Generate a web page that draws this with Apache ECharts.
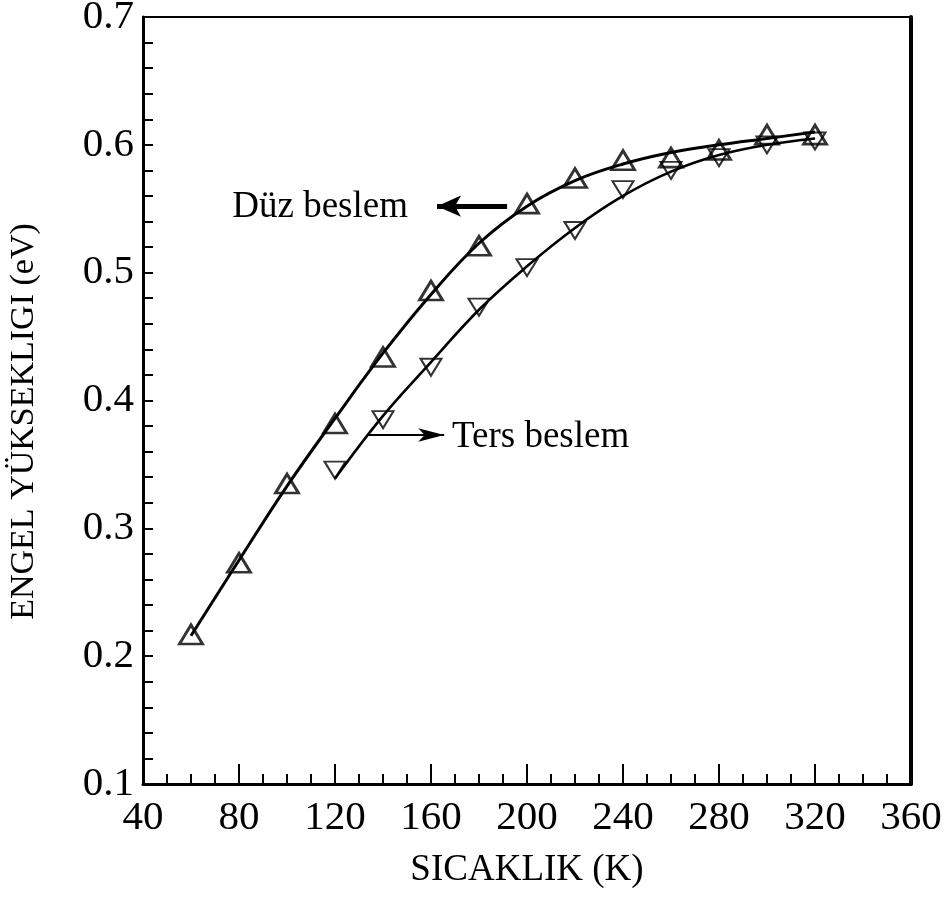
<!DOCTYPE html>
<html>
<head>
<meta charset="utf-8">
<script src="https://cdn.jsdelivr.net/npm/echarts@6/dist/echarts.min.js"></script>
<style>
  html, body { margin: 0; padding: 0; background: #fff; }
  #chart { width: 946px; height: 903px; }
</style>
</head>
<body>
<div id="chart"></div>
<script>
// Temperatures (K)
const temps = [60, 80, 100, 120, 140, 160, 180, 200, 220, 240, 260, 280, 300, 320];
const tempsTers = [120, 140, 160, 180, 200, 220, 240, 260, 280, 300, 320];

// Measured barrier heights (eV)
const duzMeasured = [0.217, 0.273, 0.335, 0.382, 0.434, 0.486, 0.521, 0.554, 0.574, 0.588, 0.590, 0.596, 0.608, 0.608];
const tersMeasured = [0.3455, 0.385, 0.426, 0.473, 0.504, 0.533, 0.565, 0.580, 0.590, 0.600, 0.603];

// Fitted curves (eV)
const duzFit = [0.216, 0.275, 0.333, 0.386, 0.437, 0.483, 0.523, 0.552, 0.572, 0.585, 0.594, 0.600, 0.605, 0.610];
const tersFit = [0.339, 0.388, 0.430, 0.471, 0.505, 0.535, 0.560, 0.579, 0.592, 0.600, 0.605];

// Axis ticks
const xTicks = { min: 40, max: 360, step: 40 };
const yTicks = { min: 0.1, max: 0.7, step: 0.1 };

const FONT = '"Liberation Serif", "Times New Roman", serif';

const pairs = (xs, ys) => xs.map((x, i) => [x, ys[i]]);

const chart = echarts.init(document.getElementById('chart'), null, { renderer: 'canvas' });

chart.setOption({
  backgroundColor: '#ffffff',
  animation: false,
  grid: { left: 143, right: 35, top: 17, bottom: 119, containLabel: false, outerBoundsMode: 'none' },
  xAxis: [
    {
      type: 'value',
      min: xTicks.min, max: xTicks.max, interval: xTicks.step,
      name: 'SICAKLIK (K)',
      nameLocation: 'middle',
      nameGap: 68,
      nameTextStyle: { fontFamily: FONT, fontSize: 37, color: '#000' },
      axisLine: { show: true, lineStyle: { color: '#000', width: 3 } },
      axisTick: { show: true, inside: true, length: 20, lineStyle: { color: '#000', width: 2 } },
      minorTick: { show: true, splitNumber: 4, length: 10, lineStyle: { color: '#000', width: 2 } },
      axisLabel: { margin: 14, fontFamily: FONT, fontSize: 41, color: '#000' },
      splitLine: { show: false },
      minorSplitLine: { show: false }
    },
    {
      type: 'value', position: 'top',
      min: xTicks.min, max: xTicks.max,
      axisLine: { show: true, lineStyle: { color: '#000', width: 2 } },
      axisTick: { show: false }, axisLabel: { show: false }, splitLine: { show: false }
    }
  ],
  yAxis: [
    {
      type: 'value',
      min: yTicks.min, max: yTicks.max, interval: yTicks.step,
      name: 'ENGEL YÜKSEKLIGI (eV)',
      nameLocation: 'middle',
      nameGap: 102,
      nameRotate: 90,
      nameTextStyle: { fontFamily: FONT, fontSize: 34, color: '#000', padding: [0, 42, 0, 0] },
      axisLine: { show: true, lineStyle: { color: '#000', width: 3 } },
      axisTick: { show: true, inside: true, length: 10, lineStyle: { color: '#000', width: 2 } },
      minorTick: { show: true, splitNumber: 5, length: 10, lineStyle: { color: '#000', width: 2 } },
      axisLabel: {
        margin: 9, fontFamily: FONT, fontSize: 41, color: '#000',
        formatter: v => v.toFixed(1)
      },
      splitLine: { show: false },
      minorSplitLine: { show: false }
    },
    {
      type: 'value', position: 'right',
      min: yTicks.min, max: yTicks.max,
      axisLine: { show: true, lineStyle: { color: '#000', width: 4 } },
      axisTick: { show: false }, axisLabel: { show: false }, splitLine: { show: false }
    }
  ],
  series: [
    {
      name: 'Düz beslem fit',
      type: 'line',
      smooth: 0.4,
      showSymbol: false,
      data: pairs(temps, duzFit),
      lineStyle: { color: '#000', width: 3 },
      z: 2,
      markLine: {
        silent: true,
        symbol: ['none', 'arrow'],
        symbolSize: [16, 24],
        label: { show: false },
        lineStyle: { color: '#000', width: 5, type: 'solid' },
        data: [[{ coord: [191.7, 0.552] }, { coord: [162.5, 0.552] }]]
      },
      markPoint: {
        silent: true,
        symbol: 'circle', symbolSize: 0,
        data: [{ coord: [150.4, 0.551] }],
        label: {
          show: true, position: [0, 0], align: 'right', verticalAlign: 'middle',
          formatter: 'Düz beslem', fontFamily: FONT, fontSize: 37, color: '#000'
        }
      }
    },
    {
      name: 'Ters beslem fit',
      type: 'line',
      smooth: 0.4,
      showSymbol: false,
      data: pairs(tempsTers, tersFit),
      lineStyle: { color: '#000', width: 2.6 },
      z: 2,
      markLine: {
        silent: true,
        symbol: ['none', 'arrow'],
        symbolSize: [10, 26],
        label: { show: false },
        lineStyle: { color: '#000', width: 2, type: 'solid' },
        data: [[{ coord: [133.75, 0.373] }, { coord: [165.5, 0.373] }]]
      },
      markPoint: {
        silent: true,
        symbol: 'circle', symbolSize: 0,
        data: [{ coord: [168.75, 0.3714] }],
        label: {
          show: true, position: [0, 0], align: 'left', verticalAlign: 'middle',
          formatter: 'Ters beslem', fontFamily: FONT, fontSize: 37, color: '#000'
        }
      }
    },
    {
      name: 'Düz beslem',
      type: 'scatter',
      symbol: 'triangle',
      symbolSize: [23, 19],
      data: pairs(temps, duzMeasured),
      itemStyle: { color: 'rgba(0,0,0,0)', borderColor: '#000', borderWidth: 2.8 },
      z: 3
    },
    {
      name: 'Ters beslem',
      type: 'scatter',
      symbol: 'triangle',
      symbolRotate: 180,
      symbolSize: [21, 17],
      data: pairs(tempsTers, tersMeasured),
      itemStyle: { color: 'rgba(0,0,0,0)', borderColor: '#000', borderWidth: 2 },
      z: 3
    }
  ]
});
</script>
</body>
</html>
